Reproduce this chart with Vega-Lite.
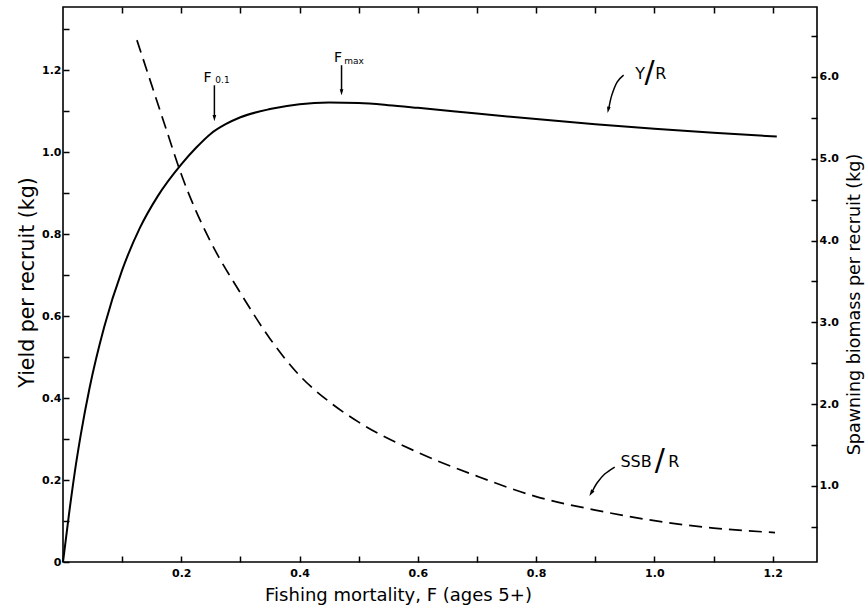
{
  "$schema": "https://vega.github.io/schema/vega-lite/v6.json",
  "width": 754,
  "height": 555,
  "autosize": {"type": "none"},
  "padding": {"left": 63, "top": 7, "right": 50, "bottom": 49},
  "background": "white",
  "config": {
    "view": {"stroke": "black", "strokeWidth": 1.6},
    "axis": {
      "grid": false,
      "domain": false,
      "tickColor": "black",
      "tickWidth": 1.5,
      "tickSize": -6,
      "labelFont": "DejaVu Sans",
      "labelFontSize": 11,
      "labelFontWeight": "bold",
      "labelColor": "black",
      "titleFont": "DejaVu Sans",
      "titleFontSize": 18,
      "titleFontWeight": "normal",
      "titleColor": "black"
    }
  },
  "datasets": {
    "yr": [
      {"F": 0, "Y": 0},
      {"F": 0.01, "Y": 0.115},
      {"F": 0.02, "Y": 0.22},
      {"F": 0.03, "Y": 0.31},
      {"F": 0.045, "Y": 0.425},
      {"F": 0.07, "Y": 0.575},
      {"F": 0.1, "Y": 0.712},
      {"F": 0.13, "Y": 0.815},
      {"F": 0.16, "Y": 0.892},
      {"F": 0.2, "Y": 0.97},
      {"F": 0.225, "Y": 1.0105},
      {"F": 0.25, "Y": 1.045},
      {"F": 0.275, "Y": 1.068},
      {"F": 0.3, "Y": 1.085},
      {"F": 0.35, "Y": 1.105},
      {"F": 0.4, "Y": 1.117},
      {"F": 0.45, "Y": 1.121},
      {"F": 0.5, "Y": 1.1195},
      {"F": 0.55, "Y": 1.1145},
      {"F": 0.6, "Y": 1.108},
      {"F": 0.7, "Y": 1.094},
      {"F": 0.8, "Y": 1.0805},
      {"F": 0.9, "Y": 1.068},
      {"F": 1.0, "Y": 1.057},
      {"F": 1.1, "Y": 1.047},
      {"F": 1.207, "Y": 1.038}
    ],
    "ssb": [
      {"F": 0.125, "SSB": 6.45},
      {"F": 0.15, "SSB": 5.9},
      {"F": 0.175, "SSB": 5.35},
      {"F": 0.2, "SSB": 4.81},
      {"F": 0.225, "SSB": 4.36},
      {"F": 0.25, "SSB": 3.98},
      {"F": 0.3, "SSB": 3.36},
      {"F": 0.35, "SSB": 2.8},
      {"F": 0.4, "SSB": 2.35},
      {"F": 0.45, "SSB": 2.03},
      {"F": 0.5, "SSB": 1.78},
      {"F": 0.6, "SSB": 1.41},
      {"F": 0.7, "SSB": 1.12},
      {"F": 0.8, "SSB": 0.87},
      {"F": 0.9, "SSB": 0.705},
      {"F": 1.0, "SSB": 0.575},
      {"F": 1.1, "SSB": 0.485},
      {"F": 1.204, "SSB": 0.43}
    ],
    "vArrows": [
      {"F": 0.256, "Y": 1.163, "Y2": 1.085},
      {"F": 0.471, "Y": 1.212, "Y2": 1.148}
    ],
    "vHeads": [
      {"F": 0.256, "Y": 1.083},
      {"F": 0.471, "Y": 1.146}
    ],
    "curves": [
      {"id": "yr", "ord": 1, "F": 0.948, "Y": 1.188},
      {"id": "yr", "ord": 2, "F": 0.937, "Y": 1.171},
      {"id": "yr", "ord": 3, "F": 0.928, "Y": 1.139},
      {"id": "yr", "ord": 4, "F": 0.923, "Y": 1.107},
      {"id": "ssb", "ord": 1, "F": 0.933, "Y": 0.2317},
      {"id": "ssb", "ord": 2, "F": 0.916, "Y": 0.2146},
      {"id": "ssb", "ord": 3, "F": 0.903, "Y": 0.1927},
      {"id": "ssb", "ord": 4, "F": 0.895, "Y": 0.172}
    ],
    "yrHead": [{"F": 0.922, "Y": 1.103}],
    "ssbHead": [{"F": 0.893, "Y": 0.168}],
    "fLabels": [
      {"F": 0.2443, "Y": 1.1817, "t": "F"},
      {"F": 0.4651, "Y": 1.2285, "t": "F"}
    ],
    "subs": [
      {"F": 0.2697, "Y": 1.1756, "t": "0.1"},
      {"F": 0.492, "Y": 1.2227, "t": "max"}
    ],
    "letters": [
      {"F": 0.976, "Y": 1.19, "t": "Y"},
      {"F": 1.011, "Y": 1.19, "t": "R"},
      {"F": 0.969, "Y": 0.2446, "t": "SSB"},
      {"F": 1.033, "Y": 0.245, "t": "R"}
    ],
    "slashes": [
      {"F": 0.992, "Y": 1.194, "t": "/"},
      {"F": 1.009, "Y": 0.246, "t": "/"}
    ]
  },
  "resolve": {
    "scale": {"y": "independent"},
    "axis": {"x": "independent", "y": "independent"}
  },
  "layer": [
    {
      "data": {"name": "yr"},
      "mark": {"type": "line", "interpolate": "monotone", "color": "black", "strokeWidth": 2},
      "encoding": {
        "x": {
          "field": "F", "type": "quantitative",
          "scale": {"domain": [0, 1.275], "nice": false, "zero": false},
          "axis": {
            "orient": "bottom",
            "values": [0.1, 0.2, 0.3, 0.4, 0.5, 0.6, 0.7, 0.8, 0.9, 1.0, 1.1, 1.2],
            "labelExpr": "round(datum.value*10)%2==0 ? format(datum.value,'.1f') : ''",
            "labelPadding": 11,
            "title": "Fishing mortality, F (ages 5+)",
            "titleX": 335,
            "titleY": 33,
            "titleBaseline": "middle",
            "titleAlign": "center"
          }
        },
        "y": {
          "field": "Y", "type": "quantitative",
          "scale": {"domain": [0, 1.354], "nice": false, "zero": false},
          "axis": {
            "orient": "left",
            "values": [0, 0.1, 0.2, 0.3, 0.4, 0.5, 0.6, 0.7, 0.8, 0.9, 1.0, 1.1, 1.2, 1.3],
            "labelExpr": "datum.value==0 ? '0' : (round(datum.value*10)%2==0 ? format(datum.value,'.1f') : '')",
            "labelPadding": 8,
            "title": "Yield per recruit (kg)",
            "titleFontSize": 20.5,
            "titleX": -36,
            "titleY": 275,
            "titleAngle": -90,
            "titleBaseline": "middle",
            "titleAlign": "center"
          }
        }
      }
    },
    {
      "data": {"name": "ssb"},
      "mark": {"type": "line", "interpolate": "monotone", "color": "black", "strokeWidth": 1.7, "strokeDash": [13, 7]},
      "encoding": {
        "x": {
          "field": "F", "type": "quantitative",
          "scale": {"domain": [0, 1.275], "nice": false, "zero": false},
          "axis": {
            "orient": "top",
            "values": [0.1, 0.2, 0.3, 0.4, 0.5, 0.6, 0.7, 0.8, 0.9, 1.0, 1.1, 1.2],
            "labels": false,
            "title": null
          }
        },
        "y": {
          "field": "SSB", "type": "quantitative",
          "scale": {"domain": [0.07, 6.855], "nice": false, "zero": false},
          "axis": {
            "orient": "right",
            "values": [0.5, 1.0, 1.5, 2.0, 2.5, 3.0, 3.5, 4.0, 4.5, 5.0, 5.5, 6.0, 6.5],
            "labelExpr": "round(datum.value*2)%2==0 ? format(datum.value,'.1f') : ''",
            "labelPadding": 8,
            "title": "Spawning biomass per recruit (kg)",
            "titleFontSize": 17.5,
            "titleX": 37,
            "titleY": 297,
            "titleAngle": -90,
            "titleBaseline": "middle",
            "titleAlign": "center"
          }
        }
      }
    },
    {
      "data": {"name": "vArrows"},
      "mark": {"type": "rule", "color": "black", "strokeWidth": 1.5},
      "encoding": {
        "x": {"field": "F", "type": "quantitative", "scale": {"domain": [0, 1.275], "nice": false, "zero": false}, "axis": null},
        "y": {"field": "Y", "type": "quantitative", "scale": {"domain": [0, 1.354], "nice": false, "zero": false}, "axis": null},
        "y2": {"field": "Y2"}
      }
    },
    {
      "data": {"name": "vHeads"},
      "mark": {"type": "point", "shape": "M -0.3 -0.5 L 0.3 -0.5 L 0 0.5 Z", "size": 150, "filled": true, "color": "black", "opacity": 1},
      "encoding": {
        "x": {"field": "F", "type": "quantitative", "scale": {"domain": [0, 1.275], "nice": false, "zero": false}, "axis": null},
        "y": {"field": "Y", "type": "quantitative", "scale": {"domain": [0, 1.354], "nice": false, "zero": false}, "axis": null}
      }
    },
    {
      "data": {"name": "curves"},
      "mark": {"type": "line", "interpolate": "cardinal", "color": "black", "strokeWidth": 1.5},
      "encoding": {
        "x": {"field": "F", "type": "quantitative", "scale": {"domain": [0, 1.275], "nice": false, "zero": false}, "axis": null},
        "y": {"field": "Y", "type": "quantitative", "scale": {"domain": [0, 1.354], "nice": false, "zero": false}, "axis": null},
        "detail": {"field": "id"},
        "order": {"field": "ord", "type": "quantitative"}
      }
    },
    {
      "data": {"name": "yrHead"},
      "mark": {"type": "point", "shape": "M -0.3 -0.5 L 0.3 -0.5 L 0 0.5 Z", "size": 150, "filled": true, "color": "black", "opacity": 1, "angle": 12},
      "encoding": {
        "x": {"field": "F", "type": "quantitative", "scale": {"domain": [0, 1.275], "nice": false, "zero": false}, "axis": null},
        "y": {"field": "Y", "type": "quantitative", "scale": {"domain": [0, 1.354], "nice": false, "zero": false}, "axis": null}
      }
    },
    {
      "data": {"name": "ssbHead"},
      "mark": {"type": "point", "shape": "M -0.3 -0.5 L 0.3 -0.5 L 0 0.5 Z", "size": 170, "filled": true, "color": "black", "opacity": 1, "angle": 32},
      "encoding": {
        "x": {"field": "F", "type": "quantitative", "scale": {"domain": [0, 1.275], "nice": false, "zero": false}, "axis": null},
        "y": {"field": "Y", "type": "quantitative", "scale": {"domain": [0, 1.354], "nice": false, "zero": false}, "axis": null}
      }
    },
    {
      "data": {"name": "fLabels"},
      "mark": {"type": "text", "font": "DejaVu Sans", "fontSize": 14, "color": "black", "align": "center", "baseline": "middle"},
      "encoding": {
        "x": {"field": "F", "type": "quantitative", "scale": {"domain": [0, 1.275], "nice": false, "zero": false}, "axis": null},
        "y": {"field": "Y", "type": "quantitative", "scale": {"domain": [0, 1.354], "nice": false, "zero": false}, "axis": null},
        "text": {"field": "t"}
      }
    },
    {
      "data": {"name": "subs"},
      "mark": {"type": "text", "font": "DejaVu Sans", "fontSize": 9, "color": "black", "align": "center", "baseline": "middle"},
      "encoding": {
        "x": {"field": "F", "type": "quantitative", "scale": {"domain": [0, 1.275], "nice": false, "zero": false}, "axis": null},
        "y": {"field": "Y", "type": "quantitative", "scale": {"domain": [0, 1.354], "nice": false, "zero": false}, "axis": null},
        "text": {"field": "t"}
      }
    },
    {
      "data": {"name": "letters"},
      "mark": {"type": "text", "font": "DejaVu Sans", "fontSize": 16, "color": "black", "align": "center", "baseline": "middle"},
      "encoding": {
        "x": {"field": "F", "type": "quantitative", "scale": {"domain": [0, 1.275], "nice": false, "zero": false}, "axis": null},
        "y": {"field": "Y", "type": "quantitative", "scale": {"domain": [0, 1.354], "nice": false, "zero": false}, "axis": null},
        "text": {"field": "t"}
      }
    },
    {
      "data": {"name": "slashes"},
      "mark": {"type": "text", "font": "DejaVu Sans", "fontSize": 30, "color": "black", "align": "center", "baseline": "middle"},
      "encoding": {
        "x": {"field": "F", "type": "quantitative", "scale": {"domain": [0, 1.275], "nice": false, "zero": false}, "axis": null},
        "y": {"field": "Y", "type": "quantitative", "scale": {"domain": [0, 1.354], "nice": false, "zero": false}, "axis": null},
        "text": {"field": "t"}
      }
    }
  ]
}
